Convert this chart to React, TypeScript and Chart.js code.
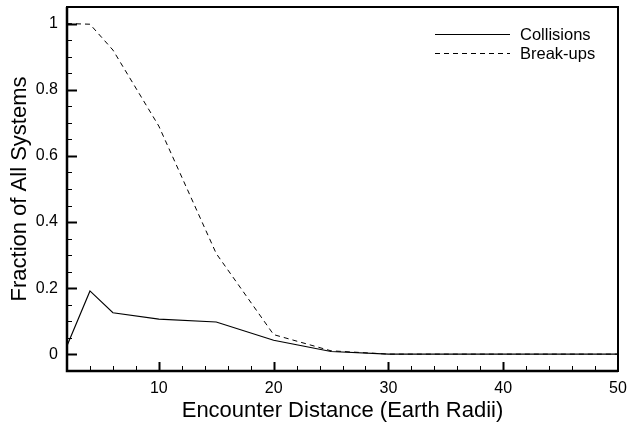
import React, { useEffect, useRef } from "react";
import { Chart, registerables } from "chart.js";

Chart.register(...registerables);

const distances = [2, 4, 6, 10, 15, 20, 25, 30, 40, 50];
const collisions = [0.026, 0.192, 0.126, 0.107, 0.098, 0.043, 0.009, 0.001, 0.001, 0.001];
const breakups = [1.0, 0.998, 0.92, 0.69, 0.305, 0.06, 0.011, 0.001, 0.001, 0.001];
const seriesLabels = ["Collisions", "Break-ups"];
const xTicks = [10, 20, 30, 40, 50];
const yTicks = [0, 0.2, 0.4, 0.6, 0.8, 1];
const xMinorStep = 2;
const yMinorStep = 0.05;
const xRange = [2, 50];
const yRange = [-0.05, 1.05];

const FONT = "'Liberation Sans', Arial, Helvetica, sans-serif";

const framePlugin = {
  id: "frameTicks",
  afterDraw(chart: any) {
    const { ctx, chartArea } = chart;
    const { left, right, top, bottom } = chartArea;
    const xs = chart.scales.x;
    const ys = chart.scales.y;
    ctx.save();
    ctx.strokeStyle = "#000";
    ctx.lineCap = "butt";
    for (let v = xRange[0]; v <= xRange[1] + 1e-9; v += xMinorStep) {
      const px = Math.round(xs.getPixelForValue(v)) + 0.5;
      const major = xTicks.some((t) => Math.abs(t - v) < 1e-6);
      if (px <= left + 1 || px >= right - 1) continue;
      ctx.lineWidth = major ? 2 : 1;
      ctx.beginPath();
      ctx.moveTo(px, bottom);
      ctx.lineTo(px, bottom - (major ? 9 : 5));
      ctx.stroke();
    }
    for (let i = 0; ; i++) {
      const v = yRange[0] + i * yMinorStep;
      if (v > yRange[1] + 1e-9) break;
      const py = Math.round(ys.getPixelForValue(v)) + 0.5;
      if (py <= top + 1 || py >= bottom - 1) continue;
      const major = yTicks.some((t) => Math.abs(t - v) < 1e-6);
      ctx.lineWidth = major ? 2 : 1;
      ctx.beginPath();
      ctx.moveTo(left, py);
      ctx.lineTo(left + (major ? 10 : 5), py);
      ctx.stroke();
    }
    ctx.lineWidth = 2;
    ctx.strokeRect(left, top, right - left, bottom - top);
    ctx.lineWidth = 2.5;
    ctx.beginPath();
    ctx.moveTo(left, top);
    ctx.lineTo(left, bottom);
    ctx.lineTo(right, bottom);
    ctx.stroke();

    ctx.font = `16.5px ${FONT}`;
    ctx.fillStyle = "#000";
    ctx.textBaseline = "middle";
    ctx.textAlign = "left";
    chart.data.datasets.forEach((ds: any, i: number) => {
      const y = top + 27.5 + i * 19;
      ctx.lineWidth = 1;
      ctx.setLineDash(ds.borderDash || []);
      ctx.beginPath();
      ctx.moveTo(right - 183, y);
      ctx.lineTo(right - 108, y);
      ctx.stroke();
      ctx.setLineDash([]);
      ctx.fillText(ds.label, right - 98, y + 1);
    });
    ctx.restore();
  },
};

export default function App() {
  const ref = useRef<HTMLCanvasElement>(null);
  useEffect(() => {
    document.body.style.margin = "0";
    const canvas = ref.current!;
    const chart = new Chart(canvas, {
      type: "line",
      data: {
        datasets: [
          {
            label: seriesLabels[0],
            data: distances.map((x, i) => ({ x, y: collisions[i] })),
            borderColor: "#000",
            borderWidth: 1.2,
            pointRadius: 0,
            tension: 0,
            fill: false,
          },
          {
            label: seriesLabels[1],
            data: distances.map((x, i) => ({ x, y: breakups[i] })),
            borderColor: "#000",
            borderWidth: 1,
            borderDash: [5, 4],
            pointRadius: 0,
            tension: 0,
            fill: false,
          },
        ],
      },
      options: {
        animation: false,
        responsive: false,
        devicePixelRatio: 1,
        layout: { padding: { top: 7, right: 21, left: 0, bottom: 0 } },
        plugins: { legend: { display: false }, tooltip: { enabled: false } },
        scales: {
          x: {
            type: "linear",
            min: xRange[0],
            max: xRange[1],
            grid: { display: false, drawTicks: false },
            border: { display: false },
            afterBuildTicks: (s: any) => {
              s.ticks = xTicks.map((v) => ({ value: v }));
            },
            afterFit: (s: any) => {
              s.height = 53;
              s.paddingLeft = 0;
              s.paddingRight = 0;
            },
            ticks: {
              color: "#000",
              padding: 8,
              maxRotation: 0,
              font: { family: FONT, size: 16 },
              callback: (v: any) => String(v),
            },
            title: {
              display: true,
              text: "Encounter Distance (Earth Radii)",
              color: "#000",
              font: { family: FONT, size: 22 },
              padding: { top: 0, bottom: 0 },
            },
          },
          y: {
            type: "linear",
            min: yRange[0],
            max: yRange[1],
            grid: { display: false, drawTicks: false },
            border: { display: false },
            afterBuildTicks: (s: any) => {
              s.ticks = yTicks.map((v) => ({ value: v }));
            },
            afterFit: (s: any) => {
              s.width = 67;
              s.paddingTop = 0;
              s.paddingBottom = 0;
            },
            ticks: {
              color: "#000",
              padding: 9,
              font: { family: FONT, size: 16 },
              callback: (v: any) => String(Math.round(v * 10) / 10),
            },
            title: {
              display: true,
              text: "Fraction of All Systems",
              color: "#000",
              font: { family: FONT, size: 22 },
              padding: { top: 7, bottom: 0 },
            },
          },
        },
      },
      plugins: [framePlugin],
    });
    return () => chart.destroy();
  }, []);
  return (
    <div style={{ width: 639, height: 424 }}>
      <canvas ref={ref} width={639} height={424} style={{ display: "block" }} />
    </div>
  );
}
